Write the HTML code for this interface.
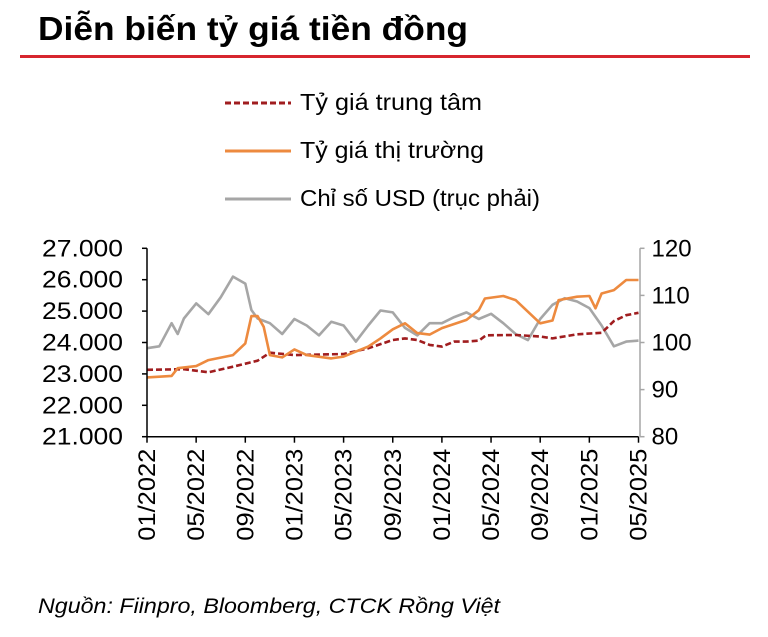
<!DOCTYPE html>
<html><head><meta charset="utf-8"><style>
html,body{margin:0;padding:0;background:#fff;width:768px;height:637px;overflow:hidden}
svg{display:block;font-family:"Liberation Sans Narrow","Liberation Sans",sans-serif}
</style></head><body>
<svg id="chart" width="768" height="637" viewBox="0 0 768 637">
<text x="38" y="40" font-size="33" font-weight="bold" textLength="430" lengthAdjust="spacingAndGlyphs">Diễn biến tỷ giá tiền đồng</text>
<rect x="20" y="55" width="730" height="3" fill="#d7262e"/>
<g>
<g><line x1="225" y1="103" x2="291" y2="103" stroke="#a01d1f" stroke-width="3" stroke-dasharray="6,3"/><text x="300" y="110" font-size="23" textLength="182" lengthAdjust="spacingAndGlyphs">Tỷ giá trung tâm</text></g>
<g><line x1="225" y1="151" x2="291" y2="151" stroke="#ed8a3f" stroke-width="3"/><text x="300" y="158" font-size="23" textLength="184" lengthAdjust="spacingAndGlyphs">Tỷ giá thị trường</text></g>
<g><line x1="225" y1="199" x2="291" y2="199" stroke="#a6a6a6" stroke-width="3"/><text x="300" y="206" font-size="23" textLength="240" lengthAdjust="spacingAndGlyphs">Chỉ số USD (trục phải)</text></g>
</g>
<g id="plot"></g>
<text x="38" y="613" font-size="21" font-style="italic" textLength="462" lengthAdjust="spacingAndGlyphs">Nguồn: Fiinpro, Bloomberg, CTCK Rồng Việt</text>
</svg>
<script>
const xTickLabels=["01/2022","05/2022","09/2022","01/2023","05/2023","09/2023","01/2024","05/2024","09/2024","01/2025","05/2025"];
const leftTicks=[21000,22000,23000,24000,25000,26000,27000];
const rightTicks=[80,90,100,110,120];
const centralMonths=[0,3,5,7,9,10,12,16,18,20,21,22,23,24,25,26,27,27.6,30,32,33,35,37,38,39,40];
const centralValues=[23130,23150,23050,23230,23420,23675,23600,23635,23815,24080,24130,24080,23925,23870,24030,24030,24060,24230,24240,24190,24130,24260,24310,24680,24870,24945];
const marketMonths=[0,2,2.5,4,5,7,8,8.5,9,9.5,10,11,12,13,15,16,17,18,19,20,21,22,23,24,26,27,27.5,29,30,31,32,33,33.5,35,36,36.5,37,38,39,40];
const marketValues=[22890,22935,23180,23250,23440,23600,23970,24840,24840,24500,23600,23525,23780,23600,23495,23550,23710,23870,24130,24420,24610,24300,24250,24460,24720,25030,25400,25480,25350,24980,24610,24700,25350,25460,25480,25090,25560,25670,25990,25990];
const usdMonths=[0,1,2,2.5,3,4,5,6,7,8,8.5,9,10,11,12,13,14,15,16,17,18,19,20,21,22,23,24,25,26,27,28,29,30,31,32,33,34,35,36,37,38,39,40];
const usdValues=[98.8,99.2,104.1,101.8,105.1,108.3,106,109.6,114,112.5,106.9,105.1,104.1,101.8,105,103.6,101.5,104.4,103.6,100.2,103.6,106.8,106.4,103.1,101.5,104.1,104.1,105.4,106.4,105,106.1,104.1,101.8,100.5,105,108,109.4,108.7,107.3,103.6,99.2,100.2,100.4];
const NS="http://www.w3.org/2000/svg";
const X0=147,X1=638.5,Y0=436.7,Y1=248.3;
const xs=m=>X0+m*(X1-X0)/40;
const yl=v=>Y0-(v-21000)*(Y0-Y1)/6000;
const yr=v=>Y0-(v-80)*(Y0-Y1)/40;
const g=document.getElementById('plot');
function mk(t,a){const e=document.createElementNS(NS,t);for(const k in a)e.setAttribute(k,a[k]);g.appendChild(e);return e;}
function fmt(v){return String(v).replace(/\B(?=(\d{3})+(?!\d))/g,'.');}
function series(ms,vs,f,stroke,dash,name){
 const d=ms.map((m,i)=>(i?'L':'M')+xs(m).toFixed(1)+','+f(vs[i]).toFixed(1)).join('');
 const p=mk('path',{d:d,fill:'none',stroke:stroke,'stroke-width':2.6,'stroke-linejoin':'round'});
 if(dash)p.setAttribute('stroke-dasharray',dash);
 
 
}
series(usdMonths,usdValues,yr,'#a6a6a6',null,'usd-index-line');
series(centralMonths,centralValues,yl,'#a01d1f','6,3','central-rate-line');
series(marketMonths,marketValues,yl,'#ed8a3f',null,'market-rate-line');
let a=mk('line',{x1:X0,y1:Y1,x2:X0,y2:Y0,stroke:'#000','stroke-width':1.5});

a=mk('line',{x1:X0,y1:Y0,x2:X1,y2:Y0,stroke:'#000','stroke-width':1.5});

a=mk('line',{x1:X1+1.5,y1:Y1,x2:X1+1.5,y2:Y0,stroke:'#a6a6a6','stroke-width':1.5});

leftTicks.forEach(v=>{
 mk('line',{x1:X0-5,y1:yl(v),x2:X0,y2:yl(v),stroke:'#000','stroke-width':1.5});
 const t=mk('text',{x:X0-24,y:yl(v)+8,'font-size':24,'text-anchor':'end',textLength:81,lengthAdjust:'spacingAndGlyphs'});t.textContent=fmt(v);
 
});
rightTicks.forEach(v=>{
 mk('line',{x1:X1+1.5,y1:yr(v),x2:X1+6,y2:yr(v),stroke:'#a6a6a6','stroke-width':1.5});
 const t=mk('text',{x:X1+13,y:yr(v)+8,'font-size':24});t.textContent=v;
 
});
xTickLabels.forEach((s,i)=>{
 const x=xs(i*4);
 mk('line',{x1:x,y1:Y0,x2:x,y2:Y0+6,stroke:'#000','stroke-width':1.5});
 const t=mk('text',{x:0,y:0,'font-size':24,'text-anchor':'end',textLength:92,lengthAdjust:'spacingAndGlyphs',transform:`translate(${x+8},${Y0+12}) rotate(-90)`});t.textContent=s;
 
});
</script>
</body></html>
